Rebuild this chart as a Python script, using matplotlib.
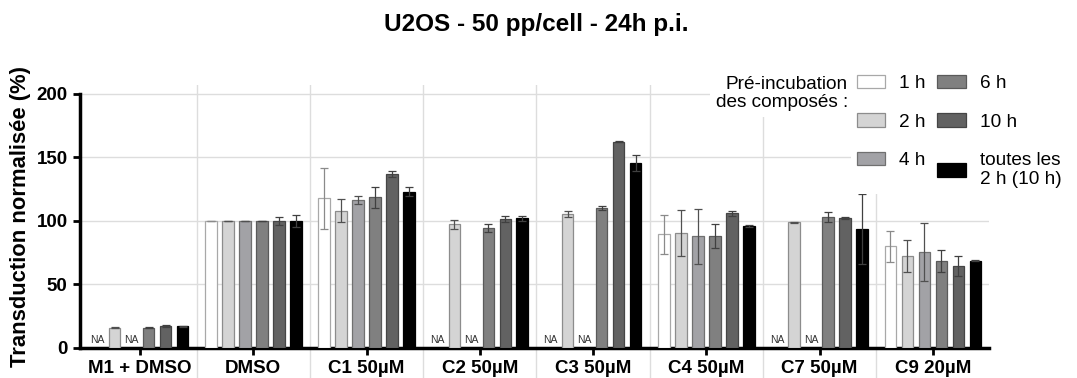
import numpy as np
import matplotlib
matplotlib.use("Agg")
import matplotlib.pyplot as plt
from matplotlib.patches import Patch

plt.rcParams['font.family'] = ['Liberation Sans', 'DejaVu Sans']

groups = ["M1 + DMSO", "DMSO", "C1 50µM", "C2 50µM", "C3 50µM", "C4 50µM", "C7 50µM", "C9 20µM"]
series = ["1 h", "2 h", "4 h", "6 h", "10 h", "toutes les\n2 h (10 h)"]

# rows = series, cols = groups (nan = NA)
na = np.nan
vals_1h = [na, 100, 118, na, na, 89.5, na, 80]
vals_2h = [16, 100, 108, 97.5, 105.5, 90.5, 98.8, 72.5]
vals_4h = [na, 100, 116.5, na, na, 88, na, 75.5]
vals_6h = [16, 100, 118.5, 94.5, 110, 88.5, 103, 68.5]
vals_10h = [17.5, 100, 137, 101.8, 162.5, 106.2, 102.3, 64.5]
vals_all = [17, 100, 123, 102, 145.5, 95.7, 93.6, 68.7]

err_1h = [0, 0, 24, 0, 0, 15.5, 0, 12]
err_2h = [0.5, 0, 9, 3.5, 2.3, 18, 0.5, 12.5]
err_4h = [0, 0, 3.5, 0, 0, 21.8, 0, 22.8]
err_6h = [0.4, 0, 8, 3, 1.5, 9.4, 4, 8.6]
err_10h = [0.6, 3.5, 2, 2.5, 0.5, 2, 0.7, 7.8]
err_all = [0.4, 4.6, 3.5, 2.3, 6.3, 0.8, 27.5, 0.3]

values = [vals_1h, vals_2h, vals_4h, vals_6h, vals_10h, vals_all]
errors = [err_1h, err_2h, err_4h, err_6h, err_10h, err_all]

colors = ['#ffffff', '#d4d4d4', '#a2a2a6', '#808080', '#626262', '#000000']
edges = ['#a8a8a8', '#8c8c8c', '#707070', '#5a5a5a', '#454545', '#000000']
ecols = ['#8a8a8a', '#505050', '#505050', '#404040', '#404040', '#404040']

fig = plt.figure(figsize=(10.77, 3.78), dpi=100)
ax = fig.add_axes([0.0743, 0.0794, 0.9187 - 0.0743, 0.775 - 0.0794])

x = np.arange(len(groups))
pitch = 0.15
width = 0.102
for i, (v, e) in enumerate(zip(values, errors)):
    pos = x + (i - 2.5) * pitch
    v = np.array(v, dtype=float)
    e = np.array(e, dtype=float)
    ok = ~np.isnan(v)
    ax.bar(pos[ok], v[ok], width, color=colors[i], edgecolor=edges[i],
           linewidth=0.9, zorder=3)
    ax.errorbar(pos[ok], v[ok], yerr=e[ok], fmt='none', ecolor=ecols[i],
                elinewidth=0.9, capsize=3, capthick=0.9, zorder=4)
    for p in pos[~ok]:
        ax.text(p, 2, "NA", ha='center', va='bottom', fontsize=7.5,
                color='#333333', zorder=5)

ax.set_ylim(0, 207)
ax.set_xlim(-0.53, 7.5)
ax.set_yticks([0, 50, 100, 150, 200])
ax.set_xticks(x)
ax.set_xticklabels(groups, fontsize=13.5, fontweight='bold')
for t in ax.get_yticklabels():
    t.set_fontsize(13.5)
    t.set_fontweight('bold')
ax.set_xticks(x[:-1] + 0.5, minor=True)
ax.tick_params(axis='both', which='major', length=5, width=2, color='black', pad=4)
ax.tick_params(axis='x', which='minor', length=30, width=1, color='#dddddd', direction='out')
ax.grid(axis='y', which='major', color='#dddddd', linewidth=1, zorder=0)
ax.grid(axis='x', which='minor', color='#dddddd', linewidth=1, zorder=0)
ax.set_axisbelow(True)

for s in ['top', 'right']:
    ax.spines[s].set_visible(False)
ax.spines['left'].set_linewidth(2.5)
ax.spines['bottom'].set_linewidth(2.5)
ax.spines['left'].set_bounds(0, 200)

ax.set_ylabel("Transduction normalisée (%)", fontsize=15.8, fontweight='bold', labelpad=4)

fig.text(0.498, 0.934, "U2OS - 50 pp/cell - 24h p.i.", ha='center', va='center',
         fontsize=17.5, fontweight='bold')

handles = [Patch(facecolor=c, edgecolor=ed, linewidth=0.9) for c, ed in zip(colors, edges)]
leg = ax.legend(handles, series, ncol=2, loc='upper right',
                frameon=True, framealpha=1, facecolor='white', edgecolor='none',
                fontsize=13.7, handlelength=1.5, handleheight=0.7, handletextpad=0.75,
                labelspacing=1.12, columnspacing=0.6, borderpad=0.3)
leg.set_bbox_to_anchor((1.0, 0.843), transform=fig.transFigure)
fig.text(848 / 1077, 1 - 76 / 378, "Pré-incubation\ndes composés :", ha='right', va='top',
         fontsize=13.7, linespacing=1.1,
         bbox=dict(facecolor='white', edgecolor='none', pad=4))

fig.savefig("out.png", dpi=100)
